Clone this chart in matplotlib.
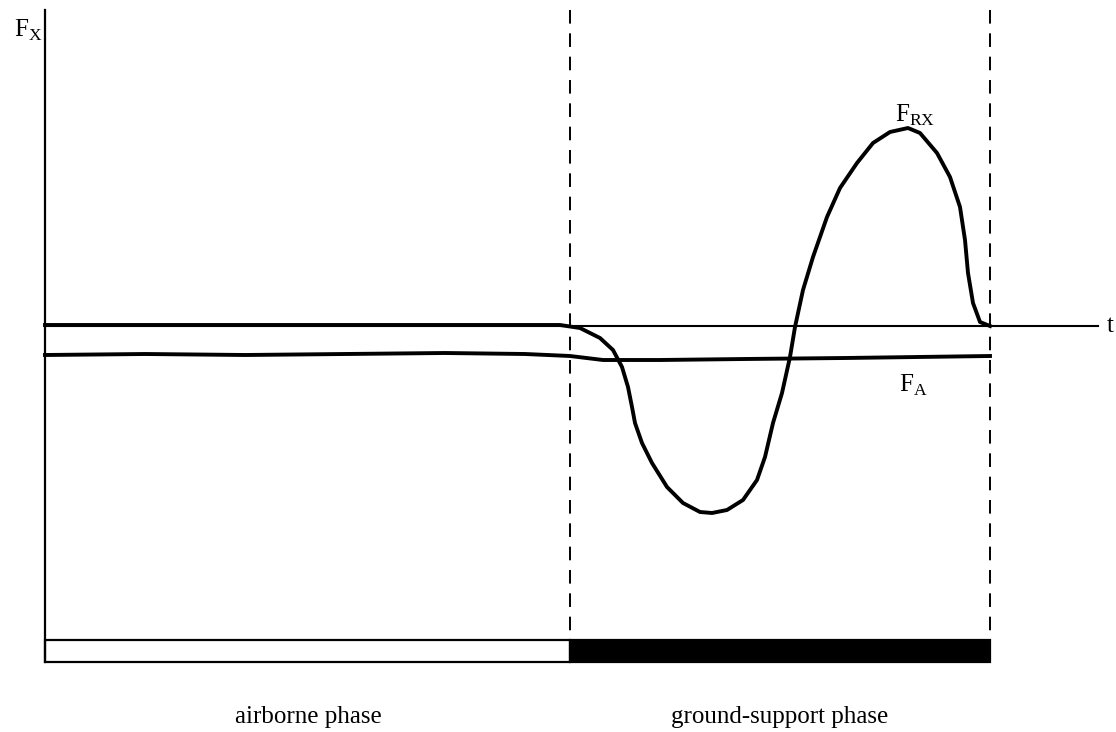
import matplotlib
matplotlib.use("Agg")
import matplotlib.pyplot as plt
from matplotlib.patches import Rectangle
import numpy as np

plt.rcParams['font.family'] = ['Liberation Serif', 'DejaVu Serif']
plt.rcParams['mathtext.fontset'] = 'custom'
plt.rcParams['mathtext.rm'] = 'Liberation Serif'

# time (arbitrary units) and phase boundaries
t_touchdown = 525
t_takeoff = 945
t_end = 1053

# horizontal ground reaction force F_RX (arbitrary units)
t_rx = [0, 200, 400, 515, 535, 555, 568, 577, 583, 587, 590, 597, 607, 622,
        638, 655, 667, 682, 698, 712, 720, 728, 737, 745, 750, 758, 768, 782,
        795, 812, 828, 845, 863, 875, 892, 905, 915, 920, 923, 928, 935, 945]
f_rx = [1, 1, 1, 1, -2, -12, -24, -41, -61, -81, -97, -117, -137, -161,
        -177, -186, -187, -184, -174, -154, -131, -97, -67, -31, -1, 36, 69,
        109, 138, 163, 183, 194, 198, 193, 173, 149, 119, 86, 53, 23, 4, 0]

# air resistance F_A
t_a = [0, 100, 200, 300, 400, 480, 525, 558, 615, 700, 800, 945]
f_a = [-29, -28, -29, -28, -27, -28, -30, -34, -34, -33, -32, -30]

y_top = 316
bar_top, bar_bot = -314, -336

fig = plt.figure(figsize=(11.16, 7.32), dpi=100)
ax = fig.add_axes([0, 0, 1, 1])
ax.set_xlim(-45, 1071)
ax.set_ylim(-406, 326)
ax.axis('off')

# axes
ax.plot([0, 0], [y_top, bar_bot], color='black', lw=1.6)
ax.plot([0, t_end], [0, 0], color='black', lw=1.5)

# phase boundaries
for tb in (t_touchdown, t_takeoff):
    ax.plot([tb, tb], [y_top, bar_top], color='black', lw=1.4,
            dashes=(7, 5))

# phase bar
ax.add_patch(Rectangle((0, bar_bot), t_touchdown, bar_top - bar_bot,
                       facecolor='white', edgecolor='black', lw=1.6))
ax.add_patch(Rectangle((t_touchdown, bar_bot), t_takeoff - t_touchdown,
                       bar_top - bar_bot, facecolor='black',
                       edgecolor='black', lw=1.6))

# forces
ax.plot(t_rx, f_rx, color='black', lw=2.8, solid_joinstyle='round')
ax.plot(t_a, f_a, color='black', lw=2.8, solid_joinstyle='round')

fs = 18
ax.text(-17, 296, r'$\mathrm{F}_{\mathrm{X}}$', fontsize=fs, ha='center', va='center')
ax.text(1062, 0, 't', fontsize=fs, ha='left', va='center')
ax.text(870, 211, r'$\mathrm{F}_{\mathrm{RX}}$', fontsize=fs, ha='center', va='center')
ax.text(868, -59, r'$\mathrm{F}_{\mathrm{A}}$', fontsize=fs, ha='center', va='center')
ax.text(263, -391, 'airborne phase', fontsize=fs, ha='center', va='center')
ax.text(735, -391, 'ground-support phase', fontsize=fs, ha='center', va='center')

fig.savefig('out.png', dpi=100)
